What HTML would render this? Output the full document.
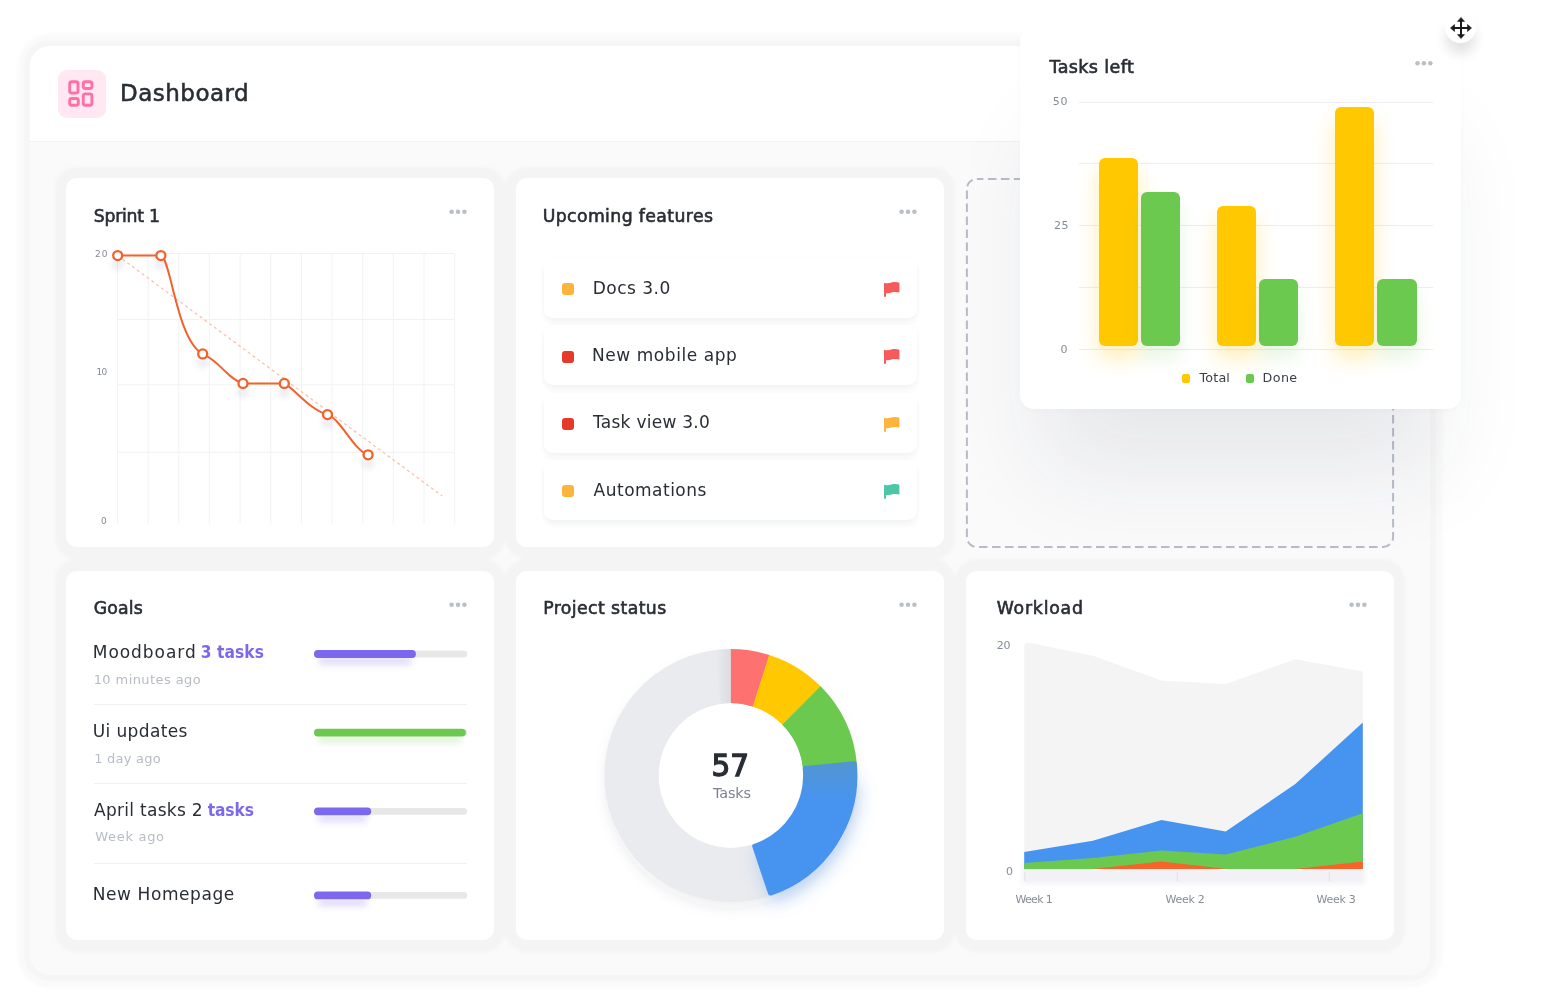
<!DOCTYPE html>
<html lang="en">
<head>
<meta charset="utf-8">
<title>Dashboard</title>
<style>
*{box-sizing:border-box;margin:0;padding:0}
html,body{width:1546px;height:1005px;background:#fff;overflow:hidden}
body{position:relative;font-family:"DejaVu Sans","Liberation Sans",sans-serif;color:#292d34}
.abs{position:absolute}
.tx{position:absolute;white-space:nowrap;line-height:1;font-weight:normal}
#panel{position:absolute;left:30px;top:46px;width:1400px;height:929px;border-radius:20px;background:#fafafb;box-shadow:0 0 2px 6px rgba(30,40,60,.02),0 0 4px 12px rgba(30,40,60,.018),0 0 16px 14px rgba(30,40,60,.008);overflow:hidden}
#hdr{position:absolute;left:0;top:0;width:100%;height:96px;background:#fff;border-bottom:1px solid #f1f2f4}
.card{position:absolute;width:428px;height:369px;background:#fff;border-radius:11px;}
.dots{position:absolute;width:18px;height:5px}
.dots i{position:absolute;top:0;width:4.4px;height:4.4px;border-radius:50%;background:#b9bec7}
.dots i:nth-child(1){left:0}.dots i:nth-child(2){left:6.35px}.dots i:nth-child(3){left:12.7px}
</style>
</head>
<body>
<div id="panel"><div id="hdr"></div></div>
<div class="abs" style="left:57.5px;top:69.8px;width:48px;height:48.2px;border-radius:9px;background:#ffe8f1"></div>
<svg class="abs" style="left:57.4px;top:70px" width="48" height="48" viewBox="0 0 48 48" fill="none" stroke="#ff6fa8" stroke-width="2.9" stroke-linejoin="round">
  <rect x="12.7" y="11.7" width="8.3" height="11.3" rx="2"/>
  <rect x="26.3" y="11.7" width="8.6" height="6.8" rx="2"/>
  <rect x="12.7" y="28.5" width="8.6" height="6.8" rx="2"/>
  <rect x="26.3" y="23.9" width="8.6" height="11.4" rx="2"/>
</svg>
<svg class="abs" style="left:30px;top:142px" width="1400" height="833" viewBox="30 142 1400 833"><defs><filter id="bf" x="-5%" y="-5%" width="110%" height="110%"><feGaussianBlur stdDeviation="1.6"/></filter></defs><g fill="#f4f4f5" filter="url(#bf)"><rect x="55" y="167" width="450" height="392" rx="21"/><rect x="505" y="167" width="450" height="392" rx="21"/><rect x="55" y="559" width="450" height="393" rx="21"/><rect x="505" y="559" width="450" height="393" rx="21"/><rect x="955" y="559" width="450" height="393" rx="21"/></g></svg>
<div class="card" style="left:66px;top:178px"></div>
<div class="card" style="left:516px;top:178px"></div>
<svg class="abs" style="left:964px;top:176px" width="432" height="373" viewBox="0 0 432 373"><rect x="2.9" y="2.9" width="426.2" height="368" rx="10" fill="none" stroke="#b7bcc6" stroke-width="2" stroke-dasharray="8.5 4.5" stroke-dashoffset="2"/></svg>
<div class="card" style="left:66px;top:571px"></div>
<div class="card" style="left:516px;top:571px"></div>
<div class="card" style="left:966px;top:571px"></div>
<!-- sprint -->
<svg class="abs" style="left:448px;top:207px" width="20" height="8" viewBox="448 207 20 8" fill="#b9bec7"><circle cx="451.60" cy="211.70" r="2.25"/><circle cx="458.00" cy="211.70" r="2.25"/><circle cx="464.40" cy="211.70" r="2.25"/></svg>
<svg class="abs" style="left:66px;top:178px" width="428" height="369" viewBox="66 178 428 369">
<defs><filter id="cs" x="-100%" y="-100%" width="300%" height="300%"><feGaussianBlur stdDeviation="2.6"/></filter></defs>
<g stroke="#f1f2f4" stroke-width="1">
<line x1="117.5" y1="253.5" x2="117.5" y2="523.5"/><line x1="148.2" y1="253.5" x2="148.2" y2="523.5"/><line x1="178.8" y1="253.5" x2="178.8" y2="523.5"/><line x1="209.4" y1="253.5" x2="209.4" y2="523.5"/><line x1="240.1" y1="253.5" x2="240.1" y2="523.5"/><line x1="270.8" y1="253.5" x2="270.8" y2="523.5"/><line x1="301.4" y1="253.5" x2="301.4" y2="523.5"/><line x1="332.0" y1="253.5" x2="332.0" y2="523.5"/><line x1="362.7" y1="253.5" x2="362.7" y2="523.5"/><line x1="393.3" y1="253.5" x2="393.3" y2="523.5"/><line x1="424.0" y1="253.5" x2="424.0" y2="523.5"/><line x1="454.6" y1="253.5" x2="454.6" y2="523.5"/><line x1="117.5" y1="253.5" x2="454.6" y2="253.5"/><line x1="117.5" y1="319.5" x2="454.6" y2="319.5"/><line x1="117.5" y1="384.8" x2="454.6" y2="384.8"/><line x1="117.5" y1="452.3" x2="454.6" y2="452.3"/>
</g>
<line x1="117.7" y1="255.6" x2="442.2" y2="496" stroke="#f9c2ad" stroke-width="1.3" stroke-dasharray="3 3"/>
<g fill="rgba(50,55,70,.06)" filter="url(#cs)"><circle cx="117.7" cy="264.1" r="6.5"/><circle cx="160.9" cy="264.1" r="6.5"/><circle cx="202.7" cy="362.4" r="6.5"/><circle cx="243.0" cy="391.9" r="6.5"/><circle cx="284.3" cy="391.9" r="6.5"/><circle cx="327.5" cy="423.1" r="6.5"/><circle cx="368.1" cy="463.3" r="6.5"/></g>
<path d="M117.7 255.6 L160.9 255.6 C170.5 257 177 341 202.7 353.9 C220.7 361.9 227 378.4 243 383.4 L284.3 383.4 C296.3 390.4 309.5 409.6 327.5 414.6 C340.5 418.6 354.1 450.8 368.1 454.8" fill="none" stroke="#f1622d" stroke-width="2" stroke-linejoin="round"/>
<g fill="#fff" stroke="#f1622d" stroke-width="2.3"><circle cx="117.7" cy="255.6" r="4.5"/><circle cx="160.9" cy="255.6" r="4.5"/><circle cx="202.7" cy="353.9" r="4.5"/><circle cx="243.0" cy="383.4" r="4.5"/><circle cx="284.3" cy="383.4" r="4.5"/><circle cx="327.5" cy="414.6" r="4.5"/><circle cx="368.1" cy="454.8" r="4.5"/></g>
</svg>
<!-- upcoming -->
<svg class="abs" style="left:898px;top:207px" width="20" height="8" viewBox="898 207 20 8" fill="#b9bec7"><circle cx="901.60" cy="211.70" r="2.25"/><circle cx="908.00" cy="211.70" r="2.25"/><circle cx="914.40" cy="211.70" r="2.25"/></svg>
<div class="abs" style="left:544px;top:257.9px;width:373px;height:60px;border-radius:9px;background:#fff;box-shadow:0 5px 5px rgba(30,35,50,.045),0 0 6px rgba(30,35,50,.02)"></div>
<div class="abs" style="left:562.3px;top:283.2px;width:12px;height:12px;border-radius:3px;background:#fdb43c"></div>
<svg class="abs" style="left:884px;top:282.0px;overflow:visible" width="16" height="16" viewBox="0 0 16 16"><path d="M0 0.8 C3 1.7 5 1.3 7.5 0.5 C10 -0.2 13 -0.1 15.4 0.7 L15.4 10.6 C13 9.8 10 9.6 7.5 10.4 C5.5 11.1 3.5 11.4 2 11 L2 14.8 L0 14.8 Z" fill="#f8595b"/></svg>
<div class="abs" style="left:544px;top:325.3px;width:373px;height:60px;border-radius:9px;background:#fff;box-shadow:0 5px 5px rgba(30,35,50,.045),0 0 6px rgba(30,35,50,.02)"></div>
<div class="abs" style="left:562.3px;top:350.6px;width:12px;height:12px;border-radius:3px;background:#e5392a"></div>
<svg class="abs" style="left:884px;top:349.4px;overflow:visible" width="16" height="16" viewBox="0 0 16 16"><path d="M0 0.8 C3 1.7 5 1.3 7.5 0.5 C10 -0.2 13 -0.1 15.4 0.7 L15.4 10.6 C13 9.8 10 9.6 7.5 10.4 C5.5 11.1 3.5 11.4 2 11 L2 14.8 L0 14.8 Z" fill="#f8595b"/></svg>
<div class="abs" style="left:544px;top:392.7px;width:373px;height:60px;border-radius:9px;background:#fff;box-shadow:0 5px 5px rgba(30,35,50,.045),0 0 6px rgba(30,35,50,.02)"></div>
<div class="abs" style="left:562.3px;top:418.0px;width:12px;height:12px;border-radius:3px;background:#e5392a"></div>
<svg class="abs" style="left:884px;top:416.8px;overflow:visible" width="16" height="16" viewBox="0 0 16 16"><path d="M0 0.8 C3 1.7 5 1.3 7.5 0.5 C10 -0.2 13 -0.1 15.4 0.7 L15.4 10.6 C13 9.8 10 9.6 7.5 10.4 C5.5 11.1 3.5 11.4 2 11 L2 14.8 L0 14.8 Z" fill="#fdb43c"/></svg>
<div class="abs" style="left:544px;top:460.1px;width:373px;height:60px;border-radius:9px;background:#fff;box-shadow:0 5px 5px rgba(30,35,50,.045),0 0 6px rgba(30,35,50,.02)"></div>
<div class="abs" style="left:562.3px;top:485.4px;width:12px;height:12px;border-radius:3px;background:#fdb43c"></div>
<svg class="abs" style="left:884px;top:484.2px;overflow:visible" width="16" height="16" viewBox="0 0 16 16"><path d="M0 0.8 C3 1.7 5 1.3 7.5 0.5 C10 -0.2 13 -0.1 15.4 0.7 L15.4 10.6 C13 9.8 10 9.6 7.5 10.4 C5.5 11.1 3.5 11.4 2 11 L2 14.8 L0 14.8 Z" fill="#4cc7a5"/></svg>
<!-- goals -->
<svg class="abs" style="left:448px;top:600px" width="20" height="8" viewBox="448 600 20 8" fill="#b9bec7"><circle cx="451.60" cy="604.70" r="2.25"/><circle cx="458.00" cy="604.70" r="2.25"/><circle cx="464.40" cy="604.70" r="2.25"/></svg>
<svg class="abs" style="left:300px;top:630px" width="190" height="300" viewBox="300 630 190 300"><defs><filter id="ps" x="-20%" y="-300%" width="140%" height="700%"><feGaussianBlur stdDeviation="3.2"/></filter></defs>
<rect x="314" y="650.6" width="153.2" height="6.8" rx="3.4" fill="#e8e8e9"/><rect x="318" y="657.5" width="93.9" height="7" rx="3.5" fill="rgba(123,104,238,.26)" filter="url(#ps)"/><rect x="314" y="650.1" width="101.9" height="7.8" rx="3.9" fill="#7b68ee"/>
<rect x="314" y="729.2" width="153.2" height="6.8" rx="3.4" fill="#e8e8e9"/><rect x="318" y="736.1" width="143.8" height="7" rx="3.5" fill="rgba(107,201,80,.22)" filter="url(#ps)"/><rect x="314" y="728.7" width="151.8" height="7.8" rx="3.9" fill="#6bc950"/>
<rect x="314" y="807.9" width="153.2" height="6.8" rx="3.4" fill="#e8e8e9"/><rect x="318" y="814.8" width="49.2" height="7" rx="3.5" fill="rgba(123,104,238,.26)" filter="url(#ps)"/><rect x="314" y="807.4" width="57.2" height="7.8" rx="3.9" fill="#7b68ee"/>
<rect x="314" y="892.0" width="153.2" height="6.8" rx="3.4" fill="#e8e8e9"/><rect x="318" y="898.9" width="49.2" height="7" rx="3.5" fill="rgba(123,104,238,.26)" filter="url(#ps)"/><rect x="314" y="891.5" width="57.2" height="7.8" rx="3.9" fill="#7b68ee"/>
</svg>
<div class="abs" style="left:93.5px;top:704.4px;width:373.7px;height:1px;background:#eff0f2"></div>
<div class="abs" style="left:93.5px;top:783.0px;width:373.7px;height:1px;background:#eff0f2"></div>
<div class="abs" style="left:93.5px;top:863.0px;width:373.7px;height:1px;background:#eff0f2"></div>
<!-- project status -->
<svg class="abs" style="left:898px;top:600px" width="20" height="8" viewBox="898 600 20 8" fill="#b9bec7"><circle cx="901.60" cy="604.70" r="2.25"/><circle cx="908.00" cy="604.70" r="2.25"/><circle cx="914.40" cy="604.70" r="2.25"/></svg>
<svg class="abs" style="left:516px;top:571px" width="428" height="369" viewBox="516 571 428 369">
<defs><filter id="ds" x="-50%" y="-50%" width="200%" height="200%"><feGaussianBlur stdDeviation="9"/></filter><filter id="ds2" x="-50%" y="-50%" width="200%" height="200%"><feGaussianBlur stdDeviation="7"/></filter><linearGradient id="bg" gradientUnits="userSpaceOnUse" x1="0" y1="762" x2="0" y2="800"><stop offset="0" stop-color="#5295d0"/><stop offset="1" stop-color="#4794f0"/></linearGradient></defs>
<circle cx="730.9" cy="782.5" r="99.3" fill="none" stroke="rgba(60,70,90,.09)" stroke-width="50.3" filter="url(#ds2)"/>
<circle cx="730.9" cy="775.5" r="72.2" fill="#fff"/>
<path d="M774.17 894.37 A126.5 126.5 0 1 1 731.34 649.00 L731.15 703.30 A72.2 72.2 0 1 0 755.59 843.35 Z" fill="#eaebee"/>
<linearGradient id="rg" gradientUnits="userSpaceOnUse" x1="716" y1="0" x2="731" y2="0"><stop offset="0" stop-color="rgba(80,90,110,0)"/><stop offset="1" stop-color="rgba(80,90,110,.10)"/></linearGradient>
<path d="M713.29 650.23 A126.5 126.5 0 0 1 730.90 649.00 L730.90 703.30 A72.2 72.2 0 0 0 720.85 704.00 Z" fill="url(#rg)"/>
<path d="M730.90 649.00 A126.5 126.5 0 0 1 769.57 655.06 L752.97 706.76 A72.2 72.2 0 0 0 730.90 703.30 Z" fill="#fd7171"/>
<path d="M769.15 654.92 A126.5 126.5 0 0 1 820.97 686.68 L782.31 724.80 A72.2 72.2 0 0 0 752.73 706.68 Z" fill="#ffc800"/>
<path d="M820.66 686.36 A126.5 126.5 0 0 1 856.88 764.03 L802.80 768.96 A72.2 72.2 0 0 0 782.13 724.63 Z" fill="#6bc950"/>
<path d="M857.40 775.50 A126.5 126.5 0 0 1 769.99 895.81 L753.21 844.17 A72.2 72.2 0 0 0 803.10 775.50 Z" fill="rgba(60,130,235,.30)" filter="url(#ds)" transform="translate(2 8)"/>
<circle cx="730.9" cy="775.5" r="71.9" fill="#fff"/>
<path d="M854.35 763.83 A124.0 124.0 0 0 1 770.45 893.02 L754.73 846.30 A74.7 74.7 0 0 0 805.27 768.47 Z" fill="url(#bg)" stroke="url(#bg)" stroke-width="5" stroke-linejoin="round"/>
</svg>
<!-- workload -->
<svg class="abs" style="left:1348px;top:600px" width="20" height="8" viewBox="1348 600 20 8" fill="#b9bec7"><circle cx="1351.60" cy="604.70" r="2.25"/><circle cx="1358.00" cy="604.70" r="2.25"/><circle cx="1364.40" cy="604.70" r="2.25"/></svg>
<svg class="abs" style="left:966px;top:571px" width="428" height="369" viewBox="966 571 428 369">
<defs><filter id="ws" x="-20%" y="-50%" width="140%" height="200%"><feGaussianBlur stdDeviation="2.5"/></filter></defs>
<rect x="1022" y="862" width="343" height="22" fill="rgba(40,45,60,.052)" filter="url(#ws)"/>
<path d="M1024.2 869.0 L1024.2 646.8 Q1024.2 641.8 1029.2 642.8 L1092.9 655.7 L1161.5 680.5 L1225.7 684.0 L1295.3 659.2 L1362.8 671.6 L1362.8 869.0 Z" fill="#f4f4f4"/>
<polygon points="1024.2,851.9 1092.9,840.8 1161.5,820.0 1225.7,831.5 1295.3,784.1 1362.8,722.5 1362.8,869.0 1024.2,869.0" fill="#4794f0"/>
<polygon points="1024.2,862.9 1092.9,858.1 1161.5,850.5 1225.7,854.5 1295.3,836.8 1362.8,813.3 1362.8,869.0 1024.2,869.0" fill="#6bc950"/>
<polygon points="1024.2,869.0 1092.9,869.0 1161.5,861.6 1225.7,869.0 1295.3,869.0 1362.8,861.6 1362.8,869.0 1024.2,869.0" fill="#f8632a"/>
<line x1="1024.9" y1="872" x2="1024.9" y2="881" stroke="#e0e2e6" stroke-width="1"/><line x1="1177.3" y1="872" x2="1177.3" y2="881" stroke="#e0e2e6" stroke-width="1"/><line x1="1329.2" y1="872" x2="1329.2" y2="881" stroke="#e0e2e6" stroke-width="1"/>
</svg>
<div class="abs" id="float" style="left:1020px;top:28px;width:441px;height:380.5px;border-radius:14px;background:#fff;box-shadow:0 85px 90px -23px rgba(40,45,60,.085),0 2px 6px rgba(40,45,60,.02)"></div>
<!-- tasks left -->
<svg class="abs" style="left:1413px;top:59px" width="20" height="8" viewBox="1413 59 20 8" fill="#b9bec7"><circle cx="1417.50" cy="63.20" r="2.25"/><circle cx="1423.90" cy="63.20" r="2.25"/><circle cx="1430.30" cy="63.20" r="2.25"/></svg>
<div class="abs" style="left:1078.5px;top:101.7px;width:354.5px;height:1px;background:#eceef1"></div>
<div class="abs" style="left:1078.5px;top:163.1px;width:354.5px;height:1px;background:#eceef1"></div>
<div class="abs" style="left:1078.5px;top:224.7px;width:354.5px;height:1px;background:#eceef1"></div>
<div class="abs" style="left:1078.5px;top:286.7px;width:354.5px;height:1px;background:#eceef1"></div>
<div class="abs" style="left:1078.5px;top:348.9px;width:354.5px;height:1px;background:#eceef1"></div>
<div class="abs" style="left:1098.9px;top:157.5px;width:39.2px;height:188.1px;border-radius:6px;background:#ffc800;box-shadow:0 12px 22px rgba(255,200,0,.30)"></div>
<div class="abs" style="left:1141.0px;top:192.1px;width:39.2px;height:153.5px;border-radius:6px;background:#6bc950;box-shadow:0 12px 18px rgba(107,201,80,.16)"></div>
<div class="abs" style="left:1216.9px;top:205.8px;width:39.2px;height:139.8px;border-radius:6px;background:#ffc800;box-shadow:0 12px 22px rgba(255,200,0,.30)"></div>
<div class="abs" style="left:1259.0px;top:278.6px;width:39.2px;height:67.0px;border-radius:6px;background:#6bc950;box-shadow:0 12px 18px rgba(107,201,80,.16)"></div>
<div class="abs" style="left:1334.8px;top:107.4px;width:39.2px;height:238.2px;border-radius:6px;background:#ffc800;box-shadow:0 12px 22px rgba(255,200,0,.30)"></div>
<div class="abs" style="left:1377.4px;top:278.6px;width:39.2px;height:67.0px;border-radius:6px;background:#6bc950;box-shadow:0 12px 18px rgba(107,201,80,.16)"></div>
<div class="abs" style="left:1182px;top:374.4px;width:8px;height:8.2px;border-radius:2px;background:#ffc800"></div>
<div class="abs" style="left:1246.2px;top:374.4px;width:8px;height:8.2px;border-radius:2px;background:#6bc950"></div>
<div class="abs" style="left:1445px;top:12.4px;width:31px;height:31px;border-radius:50%;background:#fff;box-shadow:0 11px 11px rgba(40,45,60,.12)"></div>
<svg class="abs" style="left:1449.6px;top:17px" width="22" height="22" viewBox="0 0 22 22"><g stroke="#1b1b1b" stroke-width="2" fill="none"><line x1="11" y1="3.5" x2="11" y2="18.5"/><line x1="3.5" y1="11" x2="18.5" y2="11"/></g><g fill="#1b1b1b" stroke="#1b1b1b" stroke-width=".6" stroke-linejoin="round"><path d="M11 0.4 L14.5 4.4 H7.5Z"/><path d="M11 21.6 L14.5 17.6 H7.5Z"/><path d="M0.5 11 L4.5 7.5 V14.5Z"/><path d="M21.5 11 L17.5 7.5 V14.5Z"/></g></svg>
<!-- text -->
<div class="tx" id="dash" style="left:120.0px;top:82.0px;font-size:23px;letter-spacing:0.49px;color:#292d34;-webkit-text-stroke:0.55px #292d34;">Dashboard</div>
<div class="tx" id="t1" style="left:93.7px;top:208.0px;font-size:17.3px;letter-spacing:-0.24px;color:#292d34;-webkit-text-stroke:0.60px #292d34;">Sprint 1</div>
<div class="tx" id="t2" style="left:542.7px;top:208.0px;font-size:17.3px;letter-spacing:0.38px;color:#292d34;-webkit-text-stroke:0.60px #292d34;">Upcoming features</div>
<div class="tx" id="t3" style="left:1049.5px;top:59.0px;font-size:17.5px;letter-spacing:0.39px;color:#292d34;-webkit-text-stroke:0.60px #292d34;">Tasks left</div>
<div class="tx" id="t4" style="left:93.8px;top:600.0px;font-size:17.3px;letter-spacing:0.13px;color:#292d34;-webkit-text-stroke:0.60px #292d34;">Goals</div>
<div class="tx" id="t5" style="left:543.2px;top:600.0px;font-size:17.3px;letter-spacing:0.41px;color:#292d34;-webkit-text-stroke:0.60px #292d34;">Project status</div>
<div class="tx" id="t6" style="left:996.7px;top:600.0px;font-size:17.3px;letter-spacing:0.80px;color:#292d34;-webkit-text-stroke:0.60px #292d34;">Workload</div>
<div class="tx" id="i1" style="left:592.7px;top:280.0px;font-size:17px;letter-spacing:0.49px;color:#292d34;">Docs 3.0</div>
<div class="tx" id="i2" style="left:592.0px;top:347.0px;font-size:17px;letter-spacing:0.56px;color:#292d34;">New mobile app</div>
<div class="tx" id="i3" style="left:593.0px;top:414.0px;font-size:17px;letter-spacing:0.26px;color:#292d34;">Task view 3.0</div>
<div class="tx" id="i4" style="left:593.6px;top:482.0px;font-size:17px;letter-spacing:0.49px;color:#292d34;">Automations</div>
<div class="tx" id="g1" style="left:92.8px;top:644.0px;font-size:17px;letter-spacing:0.94px;color:#292d34;">Moodboard</div>
<div class="tx" id="g1b" style="left:200.8px;top:644.0px;font-size:17.2px;letter-spacing:0.08px;color:#7b68ee;font-family:'DejaVu Sans Condensed',sans-serif;font-weight:bold;">3 tasks</div>
<div class="tx" id="g1s" style="left:93.7px;top:673.0px;font-size:13px;letter-spacing:0.41px;color:#b7bcc5;">10 minutes ago</div>
<div class="tx" id="g2" style="left:92.8px;top:723.0px;font-size:17px;letter-spacing:0.37px;color:#292d34;">Ui updates</div>
<div class="tx" id="g2s" style="left:94.2px;top:752.0px;font-size:13px;letter-spacing:0.24px;color:#b7bcc5;">1 day ago</div>
<div class="tx" id="g3" style="left:94.0px;top:802.0px;font-size:17px;letter-spacing:0.29px;color:#292d34;">April tasks 2</div>
<div class="tx" id="g3b" style="left:207.7px;top:802.0px;font-size:17.2px;letter-spacing:-0.07px;color:#7b68ee;font-family:'DejaVu Sans Condensed',sans-serif;font-weight:bold;">tasks</div>
<div class="tx" id="g3s" style="left:95.2px;top:830.0px;font-size:13px;letter-spacing:0.71px;color:#b7bcc5;">Week ago</div>
<div class="tx" id="g4" style="left:92.8px;top:886.0px;font-size:17px;letter-spacing:0.57px;color:#292d34;">New Homepage</div>
<div class="tx" id="n57" style="left:711.6px;top:752.0px;font-size:29.5px;letter-spacing:-0.20px;color:#292d34;-webkit-text-stroke:1.30px #292d34;">57</div>
<div class="tx" id="ntk" style="left:713.0px;top:786.0px;font-size:14.4px;letter-spacing:-0.15px;color:#7c828d;">Tasks</div>
<div class="tx" id="w20" style="left:996.8px;top:640.0px;font-size:11px;letter-spacing:-0.30px;color:#868c96;">20</div>
<div class="tx" id="w0" style="left:1006.0px;top:866.0px;font-size:11px;letter-spacing:0.00px;color:#868c96;">0</div>
<div class="tx" id="wk1" style="left:1015.4px;top:894.0px;font-size:11px;letter-spacing:-0.66px;color:#868c96;">Week 1</div>
<div class="tx" id="wk2" style="left:1165.4px;top:894.0px;font-size:11px;letter-spacing:-0.24px;color:#868c96;">Week 2</div>
<div class="tx" id="wk3" style="left:1316.5px;top:894.0px;font-size:11px;letter-spacing:-0.28px;color:#868c96;">Week 3</div>
<div class="tx" id="b50" style="left:1052.8px;top:96.0px;font-size:11px;letter-spacing:0.70px;color:#868c96;">50</div>
<div class="tx" id="b25" style="left:1054.0px;top:220.0px;font-size:11px;letter-spacing:0.50px;color:#868c96;">25</div>
<div class="tx" id="b0" style="left:1060.5px;top:344.0px;font-size:11px;letter-spacing:0.00px;color:#868c96;">0</div>
<div class="tx" id="s20" style="left:95.1px;top:250.0px;font-size:9px;letter-spacing:1.00px;color:#868c96;">20</div>
<div class="tx" id="s10" style="left:96.5px;top:368.0px;font-size:9px;letter-spacing:-0.70px;color:#868c96;">10</div>
<div class="tx" id="s0" style="left:101.1px;top:517.0px;font-size:9px;letter-spacing:0.00px;color:#868c96;">0</div>
<div class="tx" id="lgt" style="left:1199.4px;top:372.0px;font-size:12.7px;letter-spacing:0.22px;color:#3a3f47;">Total</div>
<div class="tx" id="lgd" style="left:1262.5px;top:372.0px;font-size:12.7px;letter-spacing:0.43px;color:#3a3f47;">Done</div>
</body>
</html>
